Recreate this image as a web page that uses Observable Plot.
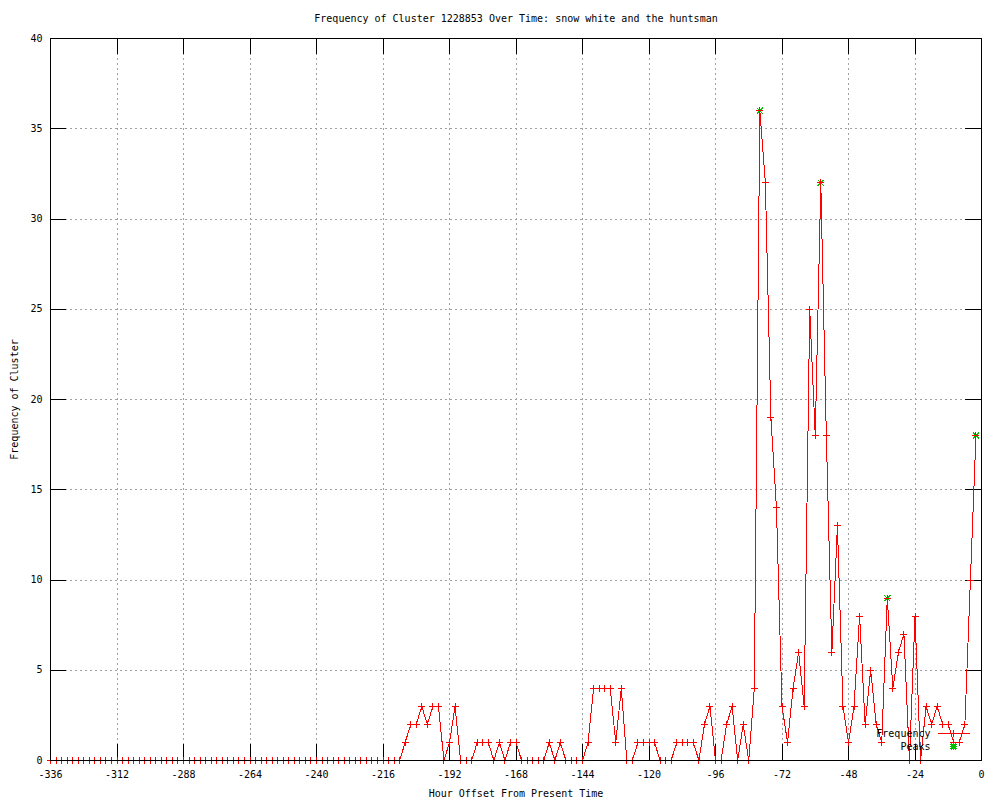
<!DOCTYPE html>
<html>
<head>
<meta charset="utf-8">
<script src="https://cdn.jsdelivr.net/npm/d3@7"></script>
<script src="https://cdn.jsdelivr.net/npm/@observablehq/plot@0.6"></script>
<style>
html, body { margin: 0; padding: 0; background: #fff; }
#chart svg { display: block; shape-rendering: crispEdges; }
</style>
</head>
<body>
<div id="chart"></div>
<script>
const title = "Frequency of Cluster 1228853 Over Time: snow white and the huntsman";
const xLabel = "Hour Offset From Present Time";
const yLabel = "Frequency of Cluster";
const legendLabels = ["Frequency", "Peaks"];

const xTicks = [-336, -312, -288, -264, -240, -216, -192, -168, -144, -120, -96, -72, -48, -24, 0];
const yTicks = [0, 5, 10, 15, 20, 25, 30, 35, 40];

const hours = [
  -336,-334,-332,-330,-328,-326,-324,-322,-320,-318,
  -316,-314,-312,-310,-308,-306,-304,-302,-300,-298,
  -296,-294,-292,-290,-288,-286,-284,-282,-280,-278,
  -276,-274,-272,-270,-268,-266,-264,-262,-260,-258,
  -256,-254,-252,-250,-248,-246,-244,-242,-240,-238,
  -236,-234,-232,-230,-228,-226,-224,-222,-220,-218,
  -216,-214,-212,-210,-208,-206,-204,-202,-200,-198,
  -196,-194,-192,-190,-188,-186,-184,-182,-180,-178,
  -176,-174,-172,-170,-168,-166,-164,-162,-160,-158,
  -156,-154,-152,-150,-148,-146,-144,-142,-140,-138,
  -136,-134,-132,-130,-128,-126,-124,-122,-120,-118,
  -116,-114,-112,-110,-108,-106,-104,-102,-100,-98,
  -96,-94,-92,-90,-88,-86,-84,-82,-80,-78,
  -76,-74,-72,-70,-68,-66,-64,-62,-60,-58,
  -56,-54,-52,-50,-48,-46,-44,-42,-40,-38,
  -36,-34,-32,-30,-28,-26,-24,-22,-20,-18,
  -16,-14,-12,-10,-8,-6,-4,-2
];

const frequency = [
  0,0,0,0,0,0,0,0,0,0,
  0,0,0,0,0,0,0,0,0,0,
  0,0,0,0,0,0,0,0,0,0,
  0,0,0,0,0,0,0,0,0,0,
  0,0,0,0,0,0,0,0,0,0,
  0,0,0,0,0,0,0,0,0,0,
  0,0,0,0,1,2,2,3,2,3,
  3,0,1,3,0,0,0,1,1,1,
  0,1,0,1,1,0,0,0,0,0,
  1,0,1,0,0,0,0,1,4,4,
  4,4,1,4,0,0,1,1,1,1,
  0,0,0,1,1,1,1,0,2,3,
  0,0,2,3,0,2,0,4,36,32,
  19,14,3,1,4,6,3,25,18,32,
  18,6,13,3,1,3,8,2,5,2,
  1,9,4,6,7,0,8,0,3,2,
  3,2,2,1,1,2,10,18
];

const peakHours = [-80, -58, -34, -2];
const peakValues = [36, 32, 9, 18];

const data = hours.map((h, i) => ({hour: h, value: frequency[i]}));
const peaks = peakHours.map((h, i) => ({hour: h, value: peakValues[i]}));

const RED = "#ff0000";
const GREEN = "#00c000";
const GRID = "#a0a0a0";
const FONT = "'DejaVu Sans Mono', 'Liberation Mono', monospace";

const plusSym = {
  draw(ctx, size) {
    const r = Math.sqrt(size / Math.PI);
    ctx.moveTo(-r, 0); ctx.lineTo(r, 0);
    ctx.moveTo(0, -r); ctx.lineTo(0, r);
  }
};
const starSym = {
  draw(ctx, size) {
    const r = Math.sqrt(size / Math.PI);
    const d = r * 0.85;
    ctx.moveTo(-r, 0); ctx.lineTo(r, 0);
    ctx.moveTo(0, -r); ctx.lineTo(0, r);
    ctx.moveTo(-d, -d); ctx.lineTo(d, d);
    ctx.moveTo(-d, d); ctx.lineTo(d, -d);
  }
};
const legendLineSym = {
  draw(ctx, size) {
    const r = Math.sqrt(size / Math.PI);
    ctx.moveTo(-16, 0); ctx.lineTo(16, 0);
    ctx.moveTo(0, -r); ctx.lineTo(0, r);
  }
};

const W = 1000, H = 800, ML = 50, MR = 19, MT = 38, MB = 40;
const TICK = 16;
const innerW = W - ML - MR, innerH = H - MT - MB;

const plot = Plot.plot({
  width: W,
  height: H,
  marginLeft: ML,
  marginRight: MR,
  marginTop: MT,
  marginBottom: MB,
  style: {fontFamily: FONT, fontSize: "10px", background: "#fff", color: "#000"},
  x: {domain: [-336, 0], label: null},
  y: {domain: [0, 40], label: null},
  marks: [
    // dotted grid
    Plot.ruleX(xTicks.slice(1, -1), {stroke: GRID, strokeOpacity: 1, strokeDasharray: "2,3"}),
    Plot.ruleY(yTicks.slice(1, -1), {stroke: GRID, strokeOpacity: 1, strokeDasharray: "2,3"}),
    // inward ticks on all sides
    Plot.ruleX(xTicks, {stroke: "#000", insetTop: innerH - TICK}),
    Plot.ruleX(xTicks, {stroke: "#000", insetBottom: innerH - TICK}),
    Plot.ruleY(yTicks, {stroke: "#000", insetRight: innerW - TICK}),
    Plot.ruleY(yTicks, {stroke: "#000", insetLeft: innerW - TICK}),
    // peaks
    Plot.dot(peaks, {x: "hour", y: "value", symbol: starSym, r: 3.5, stroke: GREEN, fill: "none", strokeWidth: 1}),
    // frequency
    Plot.line(data, {x: "hour", y: "value", stroke: RED, strokeWidth: 1}),
    Plot.dot(data, {x: "hour", y: "value", symbol: plusSym, r: 3.5, stroke: RED, fill: "none", strokeWidth: 1}),
    // border
    Plot.frame({stroke: "#000"}),
    // tick labels
    Plot.axisX(xTicks, {tickSize: 0, tickPadding: 10, tickFormat: d => String(d), fontSize: 10}),
    Plot.axisY(yTicks, {tickSize: 0, tickPadding: 8, tickFormat: d => String(d), fontSize: 10}),
    // titles
    Plot.text([title], {text: d => d, frameAnchor: "top", dy: -20, lineAnchor: "middle", textAnchor: "middle", fontSize: 10}),
    Plot.text([xLabel], {text: d => d, frameAnchor: "bottom", dy: 33, lineAnchor: "middle", textAnchor: "middle", fontSize: 10}),
    Plot.text([yLabel], {text: d => d, frameAnchor: "left", dx: -36, rotate: -90, lineAnchor: "middle", textAnchor: "middle", fontSize: 10}),
    // legend
    Plot.text([legendLabels[0]], {text: d => d, frameAnchor: "bottom-right", dx: -51, dy: -27, lineAnchor: "middle", textAnchor: "end", fontSize: 10}),
    Plot.text([legendLabels[1]], {text: d => d, frameAnchor: "bottom-right", dx: -51, dy: -14, lineAnchor: "middle", textAnchor: "end", fontSize: 10}),
    Plot.dot([legendLabels[0]], {frameAnchor: "bottom-right", dx: -28, dy: -27, symbol: legendLineSym, r: 3.5, stroke: RED, fill: "none"}),
    Plot.dot([legendLabels[1]], {frameAnchor: "bottom-right", dx: -28, dy: -14, symbol: starSym, r: 3.5, stroke: GREEN, fill: "none"})
  ]
});

document.getElementById("chart").appendChild(plot);
</script>
</body>
</html>
